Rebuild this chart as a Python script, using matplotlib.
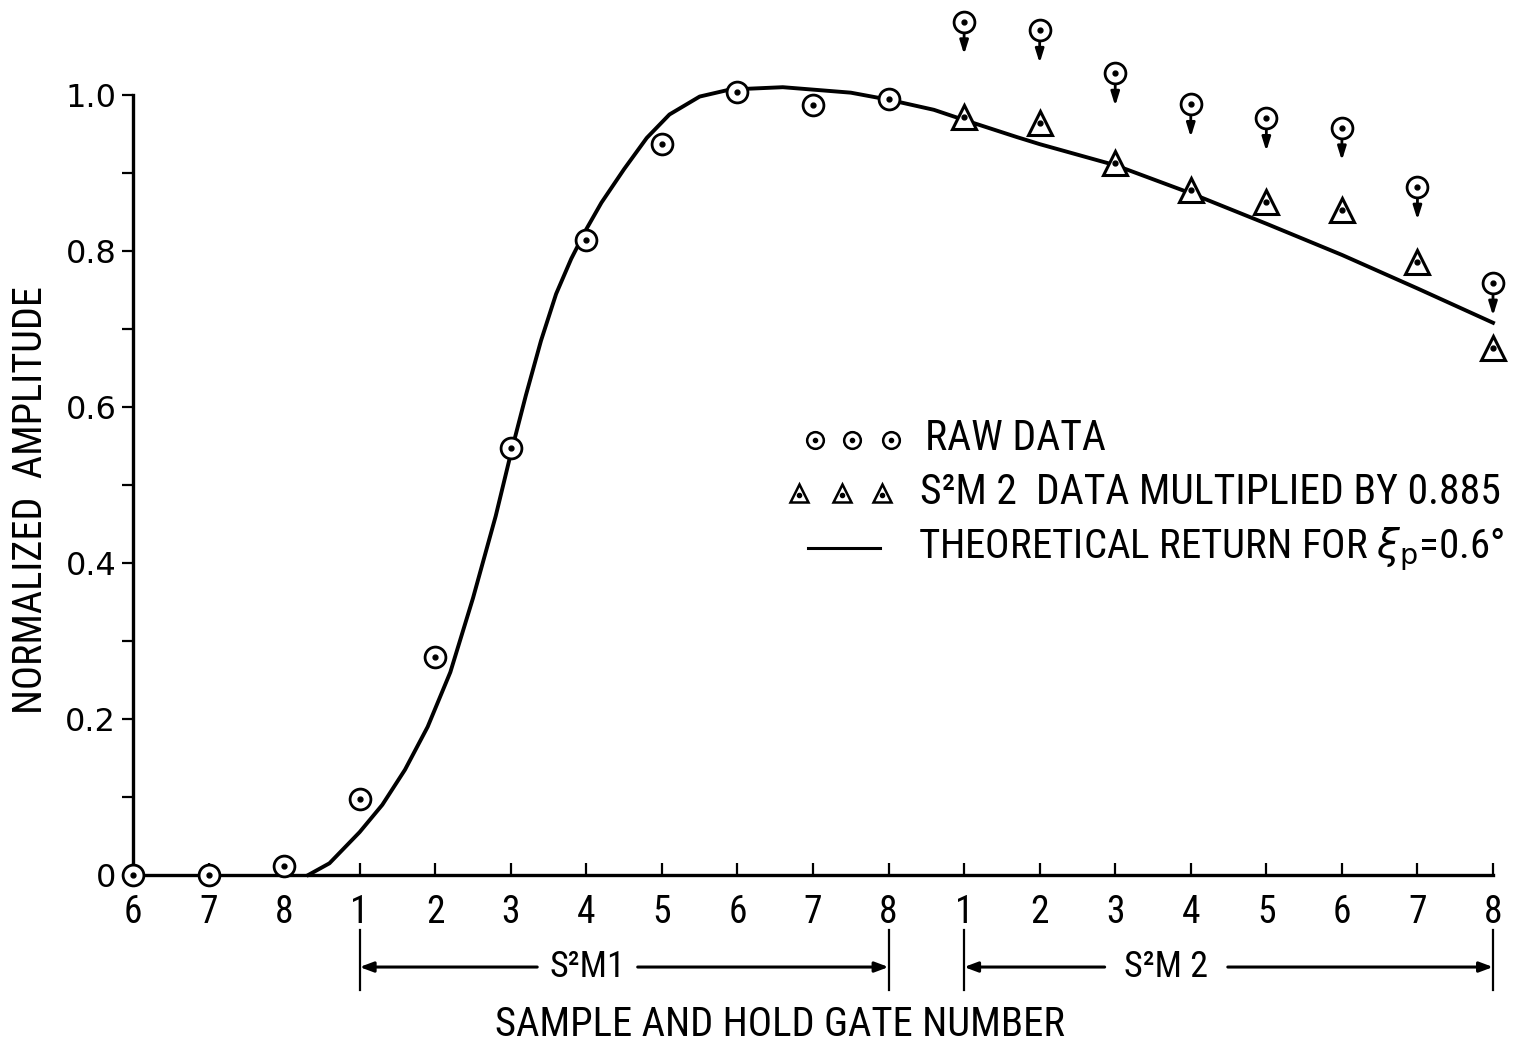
import os
import matplotlib
matplotlib.use("Agg")
import matplotlib.pyplot as plt
from matplotlib import font_manager as fm
from matplotlib.transforms import blended_transform_factory

plt.rcParams['mathtext.fontset'] = 'dejavusans'

# ---------------- data ----------------
tick_labels = ["6", "7", "8", "1", "2", "3", "4", "5", "6", "7", "8",
               "1", "2", "3", "4", "5", "6", "7", "8"]
gate_index = list(range(19))

raw_data = [0.0, 0.0, 0.012, 0.097, 0.280, 0.547, 0.814, 0.937, 1.004, 0.987,
            0.995, 1.094, 1.083, 1.028, 0.988, 0.970, 0.958, 0.882, 0.759]

s2m2_index = [11, 12, 13, 14, 15, 16, 17, 18]
s2m2_scaled = [0.972, 0.964, 0.913, 0.878, 0.863, 0.853, 0.786, 0.676]

theory_x = [2.32, 2.6, 3.0, 3.3, 3.6, 3.9, 4.2, 4.5, 4.8, 5.0, 5.2, 5.4, 5.6, 5.8,
            6.0, 6.2, 6.5, 6.8, 7.1, 7.5, 7.9, 8.6, 9.5, 10.0, 10.6, 11.0, 11.7,
            12.0, 13.0, 14.0, 15.0, 16.0, 17.0, 18.0]
theory_y = [0.0, 0.015, 0.055, 0.090, 0.135, 0.190, 0.260, 0.355, 0.460, 0.540,
            0.615, 0.685, 0.745, 0.790, 0.828, 0.862, 0.905, 0.945, 0.975, 0.998,
            1.007, 1.010, 1.003, 0.994, 0.981, 0.968, 0.946, 0.937, 0.910, 0.874,
            0.835, 0.795, 0.752, 0.708]


# ---------------- font choice (prefer a condensed sans) ----------------
def pick_font():
    files = [f.fname for f in fm.fontManager.ttflist]
    prefs = ['liberationsansnarrow-regular', 'robotocondensed-regular',
             'dejavusanscondensed.ttf', 'opensans_condensed-regular',
             'opensanscondensed-regular', 'notosans-condensed.ttf',
             'notosans-condensed-regular', 'notosanscondensed-regular']
    for p in prefs:
        for f in files:
            if os.path.basename(f).lower().startswith(p):
                return f
    bad = ['bold', 'italic', 'oblique', 'light', 'thin', 'black', 'medium',
           'semi', 'extra', 'mono', 'serif', 'cjk']
    for f in files:
        b = os.path.basename(f).lower()
        if ('condensed' in b or 'narrow' in b) and not any(x in b for x in bad):
            return f
    return None


fpath = pick_font()
if fpath:
    FP = lambda: fm.FontProperties(fname=fpath)
else:
    FP = lambda: fm.FontProperties(family='DejaVu Sans')

# ---------------- figure ----------------
W, H = 1524, 1045
fig = plt.figure(figsize=(W / 100, H / 100), dpi=100)
ax = fig.add_axes([133 / W, 1 - 875 / H, (1493 - 133) / W, (875 - 95) / H])
ax.set_xlim(0, 18)
ax.set_ylim(0, 1.0)

for s in ['top', 'right']:
    ax.spines[s].set_visible(False)
for s in ['left', 'bottom']:
    ax.spines[s].set_linewidth(2.4)

ax.set_xticks(gate_index)
ax.set_xticklabels(tick_labels)
ax.tick_params(axis='x', direction='in', length=9, width=1.6, pad=14)
ax.set_yticks([0, 0.2, 0.4, 0.6, 0.8, 1.0])
ax.set_yticklabels(["0", "0.2", "0.4", "0.6", "0.8", "1.0"])
ax.set_yticks([0.1, 0.3, 0.5, 0.7, 0.9], minor=True)
ax.tick_params(axis='y', which='both', direction='out', length=8, width=1.6, pad=4)
for lab in ax.get_xticklabels():
    lab.set_fontproperties(FP())
    lab.set_fontsize(27 if fpath else 25)
for lab in ax.get_yticklabels():
    lab.set_fontfamily('DejaVu Sans')
    lab.set_fontsize(23)

# theoretical curve
ax.plot(theory_x, theory_y, color='black', lw=2.8, clip_on=False, zorder=2,
        solid_joinstyle='round')

# raw data circles
ax.plot(gate_index, raw_data, linestyle='none', marker='o', ms=15, mfc='white',
        mec='black', mew=2.0, clip_on=False, zorder=4)
ax.plot(gate_index, raw_data, linestyle='none', marker='o', ms=3.5, color='black',
        clip_on=False, zorder=5)

# arrows for S2M2 raw data
for xi in s2m2_index:
    yv = raw_data[xi]
    ax.annotate('', xy=(xi, yv - 0.042), xytext=(xi, yv - 0.013),
                arrowprops=dict(arrowstyle='-|>,head_length=0.8,head_width=0.25',
                                color='black', lw=2.0, shrinkA=0, shrinkB=0),
                annotation_clip=False, zorder=3)

# triangles
ax.plot(s2m2_index, s2m2_scaled, linestyle='none', marker='^', ms=17, mfc='white',
        mec='black', mew=2.2, clip_on=False, zorder=4)
ax.plot(s2m2_index, s2m2_scaled, linestyle='none', marker='o', ms=3.5, color='black',
        clip_on=False, zorder=5)

fitted = []  # (text, target width px, measure vertical?, max size)

# axis labels
t = fig.text(31 / W, 1 - 500 / H, "NORMALIZED  AMPLITUDE", rotation=90,
             ha='center', va='center', fontproperties=FP(), fontsize=27)
fitted.append((t, 440, True, 29))
t = fig.text(780 / W, 1 - 1025 / H, "SAMPLE AND HOLD GATE NUMBER",
             ha='center', va='center', fontproperties=FP(), fontsize=27)
fitted.append((t, 570, False, 30))

# legend (drawn manually)
tA = ax.transAxes
for xa in [0.5015, 0.529, 0.557]:
    ax.plot([xa], [0.558], transform=tA, marker='o', ms=12, mfc='white', mec='black',
            mew=1.8, clip_on=False)
    ax.plot([xa], [0.558], transform=tA, marker='o', ms=3, color='black', clip_on=False)
for xa in [0.490, 0.521, 0.551]:
    ax.plot([xa], [0.490], transform=tA, marker='^', ms=13, mfc='white', mec='black',
            mew=1.8, clip_on=False)
    ax.plot([xa], [0.487], transform=tA, marker='o', ms=3, color='black', clip_on=False)
ax.plot([0.496, 0.549], [0.419, 0.419], transform=tA, color='black', lw=2.2, clip_on=False)

t = ax.text(0.582, 0.560, "RAW DATA", transform=tA, va='center', ha='left',
            fontproperties=FP(), fontsize=28)
fitted.append((t, 187, False, 30))
t = ax.text(0.579, 0.490, "S²M 2  DATA MULTIPLIED BY 0.885", transform=tA,
            va='center', ha='left', fontproperties=FP(), fontsize=28)
fitted.append((t, 585, False, 30))
t = ax.text(0.577, 0.417, r"THEORETICAL RETURN FOR $\xi_{\rm p}$=0.6°", transform=tA,
            va='center', ha='left', fontproperties=FP(), fontsize=28)
fitted.append((t, 587, False, 30))

# bracket annotations below the axis
bt = blended_transform_factory(ax.transData, ax.transAxes)
for x0, x1, lab, tl, tr in [(3, 10, "S²M1", 5.35, 6.68),
                            (11, 18, "S²M 2", 12.86, 14.49)]:
    for xv in (x0, x1):
        ax.plot([xv, xv], [-0.070, -0.147], transform=bt, color='black', lw=1.6,
                clip_on=False)
    for xe, xs in ((x0, tl), (x1, tr)):
        ax.annotate('', xy=(xe, -0.118), xytext=(xs, -0.118), xycoords=bt, textcoords=bt,
                    arrowprops=dict(arrowstyle='-|>,head_length=0.8,head_width=0.3',
                                    color='black', lw=2.2, shrinkA=0, shrinkB=0),
                    annotation_clip=False)
    ax.text((tl + tr) / 2, -0.118, lab, transform=bt, ha='center', va='center',
            fontproperties=FP(), fontsize=26)

# fit text sizes to the widths seen in the reference
fig.canvas.draw()
r = fig.canvas.get_renderer()
for t, target, vert, smax in fitted:
    bb = t.get_window_extent(r)
    cur = bb.height if vert else bb.width
    if cur > 0:
        t.set_fontsize(min(smax, t.get_fontsize() * target / cur))

fig.savefig("out.png", dpi=100, facecolor='white')
